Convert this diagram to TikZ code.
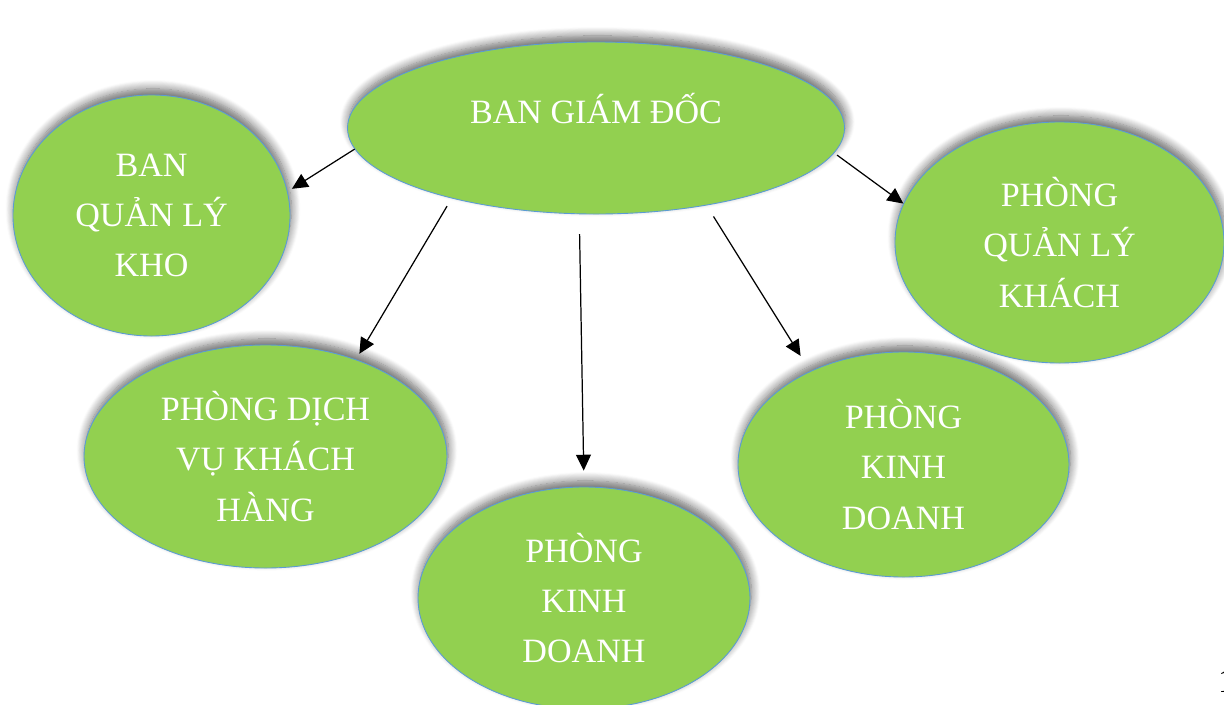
\documentclass[tikz,border=0pt]{standalone}
\usepackage{fontspec}
\setmainfont{Liberation Serif}
\usepackage{xcolor}
\usetikzlibrary{shapes.geometric, arrows.meta, positioning, calc, shadows.blur}
\definecolor{leafgreen}{RGB}{146, 208, 80}
\definecolor{edgeblue}{RGB}{91, 155, 213}

\begin{document}
\begin{tikzpicture}[
    dept/.style={ellipse, draw=edgeblue, line width=0.5pt, fill=leafgreen, text=white, align=center, inner sep=0pt,
        font=\fontsize{19.4}{28.5}\selectfont,
        blur shadow={shadow xshift=0.8pt, shadow yshift=3.5pt, shadow blur radius=5pt, shadow opacity=60, shadow blur steps=10}},
    arrow/.style={-{Triangle[length=9pt,width=8.5pt]}, line width=0.7pt}
]
\useasboundingbox (0,0) rectangle (24.48,-14.08);
\node[dept, minimum width=9.94cm, minimum height=3.44cm] (main) at (11.92,-2.56) {\raisebox{0.8cm}{BAN GIÁM ĐỐC}};
\node[dept, minimum width=5.54cm, minimum height=4.82cm] (kho) at (3.03,-4.31) {BAN\\QUẢN LÝ\\KHO};
\node[dept, minimum width=7.26cm, minimum height=4.46cm] (dichvu) at (5.31,-9.13) {PHÒNG DỊCH\\VỤ KHÁCH\\HÀNG};
\node[dept, minimum width=6.64cm, minimum height=4.44cm] (kdmid) at (11.68,-11.96) {PHÒNG\\KINH\\DOANH};
\node[dept, minimum width=6.62cm, minimum height=4.50cm] (kdright) at (18.07,-9.29) {PHÒNG\\KINH\\DOANH};
\node[dept, minimum width=6.58cm, minimum height=4.82cm] (khach) at (21.19,-4.85) {PHÒNG\\QUẢN LÝ\\KHÁCH};
\node[anchor=base west, font=\fontsize{19.4}{28.5}\selectfont] (pagenum) at (24.24,-13.84) {1};

\draw[arrow, shorten >=0.1cm] (main.185) -- (kho.10);
\draw[arrow, shorten <=0.18cm, shorten >=0.13cm] (main.206) -- (dichvu.47);
\draw[arrow, shorten <=0.4cm, shorten >=0.32cm] (main.259) -- (kdmid.90);
\draw[arrow, shorten <=0.26cm, shorten >=0.36cm] (main.325.6) -- (kdright.135);
\draw[arrow, shorten <=0.07cm] (main.354) -- (khach.166);
\end{tikzpicture}
\end{document}
